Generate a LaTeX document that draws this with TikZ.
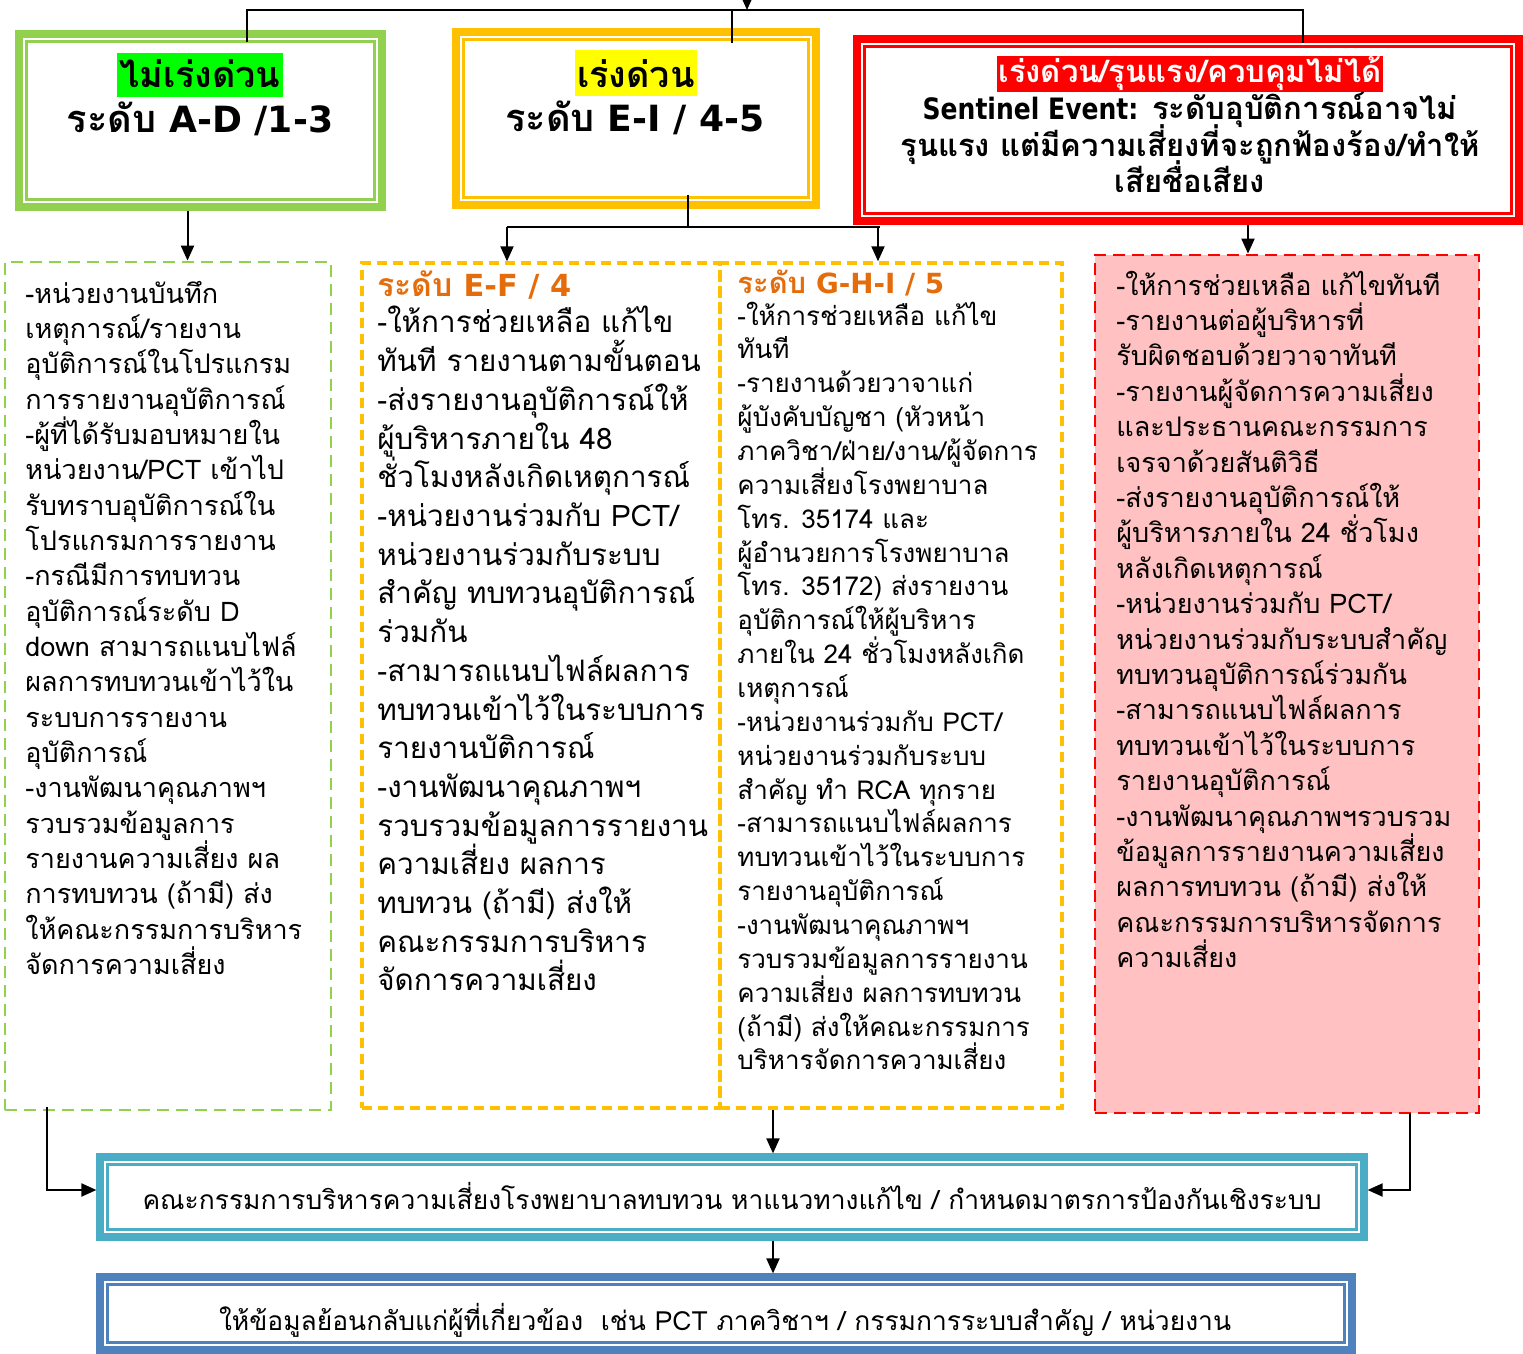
\documentclass[tikz,border=0pt]{standalone}
\usepackage{fontspec}
\setmainfont[Script=Thai]{Loma}
\newfontfamily\dvs{DejaVu Sans}[Scale=0.95]
\newfontfamily\dvsn{DejaVu Sans}[Scale=0.95, FakeStretch=0.85]
\usetikzlibrary{arrows.meta,fit}
\definecolor{cgreen}{HTML}{92D050}
\definecolor{hgreen}{HTML}{00FF00}
\definecolor{cyel}{HTML}{FFC000}
\definecolor{hyel}{HTML}{FFFF00}
\definecolor{cred}{HTML}{FF0000}
\definecolor{corange}{HTML}{E46C0A}
\definecolor{cpink}{HTML}{FFC1C1}
\definecolor{ccyan}{HTML}{4BACC6}
\definecolor{cblue}{HTML}{4F81BD}
\tikzset{
  band/.style={draw=#1, line width=3.6pt, inner sep=0pt},
  thinline/.style={draw=#1, line width=1.2pt},
  dbox/.style={draw=#1, line width=1.4pt, dash pattern=on 6pt off 3.5pt, inner sep=0pt},
  conn/.style={line width=1pt, draw=black},
  arr/.style={conn, -{Triangle[width=6.5pt,length=7.5pt]}},
  gtxt/.style={anchor=base west, inner sep=0pt, font=\fontsize{13.5pt}{16pt}\selectfont},
  etxt/.style={anchor=base west, inner sep=0pt, font=\fontsize{14.8pt}{17pt}\selectfont},
  htxt/.style={anchor=base west, inner sep=0pt, font=\fontsize{13pt}{15pt}\selectfont},
  hdr/.style={anchor=base west, inner sep=0pt, text=corange, font=\bfseries\fontsize{14.6pt}{17pt}\selectfont},
  ttl/.style={anchor=base, inner sep=0pt, font=\bfseries\fontsize{19pt}{21pt}\selectfont},
  rttl/.style={anchor=base, inner sep=0pt, font=\bfseries\fontsize{15.5pt}{17pt}\selectfont},
  btxt/.style={anchor=base, inner sep=0pt, font=\fontsize{13.2pt}{16pt}\selectfont},
}
\begin{document}
\begin{tikzpicture}[x=0.5pt,y=-0.5pt]
\useasboundingbox (0,0) rectangle (1523,1354);
% ---------- top boxes
\node[band=cgreen, fit={(19,34)(382,207)}] (gbox) {};
\node[band=cyel, fit={(456,32)(816,205)}] (ybox) {};
\node[band=cred, fit={(857,39)(1519,221)}] (rbox) {};
\foreach \b/\c in {gbox/cgreen, ybox/cyel, rbox/cred}
  \draw[thinline=\c] ([shift={(5.5pt,-5.5pt)}]\b.north west) rectangle ([shift={(-5.5pt,5.5pt)}]\b.south east);
% titles
\node[ttl, fill=hgreen, inner xsep=1pt, text height=17.5pt, text depth=4.5pt, font=\bfseries\fontsize{18pt}{20pt}\selectfont] (t1a) at (200,88) {ไม่เร่งด่วน};
\node[ttl] (t1b) at (200,133) {ระดับ {\dvs A-D /1-3}};
\node[ttl, fill=hyel, inner xsep=1pt, text height=19pt, text depth=4pt, font=\bfseries\fontsize{18pt}{20pt}\selectfont] (t2a) at (636,88) {เร่งด่วน};
\node[ttl] (t2b) at (635,132) {ระดับ {\dvs E-I / 4-5}};
\node[rttl, fill=cred, text=white, inner xsep=1pt, text height=13.5pt, text depth=4.5pt] (t3a) at (1190,83) {เร่งด่วน/รุนแรง/ควบคุมไม่ได้};
\node[rttl] (t3b) at (1190,120) {{\dvsn Sentinel Event:} ระดับอุบัติการณ์อาจไม่};
\node[rttl] (t3c) at (1190,157) {รุนแรง แต่มีความเสี่ยงที่จะถูกฟ้องร้อง/ทำให้};
\node[rttl] (t3d) at (1190,192) {เสียชื่อเสียง};
% ---------- dashed boxes
\node[dbox=cgreen, fit={(5,262)(331,1110)}] (gd) {};
\node[dbox=cred, fill=cpink, fit={(1095,255)(1479,1113)}] (rd) {};
\node[dbox=cyel, line width=1.7pt, dash pattern=on 5pt off 3pt, fit={(362,263)(720,1108)}] (ef) {};
\node[dbox=cyel, line width=1.7pt, dash pattern=on 5pt off 3pt, fit={(720,263)(1062,1108)}] (ghi) {};
% green text
\foreach \t [count=\i from 0] in {-หน่วยงานบันทึก,เหตุการณ์/รายงาน,อุบัติการณ์ในโปรแกรม,การรายงานอุบัติการณ์,-ผู้ที่ได้รับมอบหมายใน,หน่วยงาน/PCT เข้าไป,รับทราบอุบัติการณ์ใน,โปรแกรมการรายงาน,-กรณีมีการทบทวน,อุบัติการณ์ระดับ D,down สามารถแนบไฟล์,ผลการทบทวนเข้าไว้ใน,ระบบการรายงาน,อุบัติการณ์,-งานพัฒนาคุณภาพฯ,รวบรวมข้อมูลการ,รายงานความเสี่ยง ผล,การทบทวน (ถ้ามี) ส่ง,ให้คณะกรรมการบริหาร,จัดการความเสี่ยง}
  \node[gtxt] (g\i) at (25,{303+35.35*\i}) {\t};
% E-F text
\node[hdr, font=\bfseries\fontsize{16pt}{18pt}\selectfont] (efh) at (377,297) {ระดับ {\dvs E-F / 4}};
\foreach \t [count=\i from 0] in {-ให้การช่วยเหลือ แก้ไข,ทันที รายงานตามขั้นตอน,-ส่งรายงานอุบัติการณ์ให้,ผู้บริหารภายใน 48,ชั่วโมงหลังเกิดเหตุการณ์,-หน่วยงานร่วมกับ PCT/,หน่วยงานร่วมกับระบบ,สำคัญ ทบทวนอุบัติการณ์,ร่วมกัน,-สามารถแนบไฟล์ผลการ,ทบทวนเข้าไว้ในระบบการ,รายงานบัติการณ์,-งานพัฒนาคุณภาพฯ,รวบรวมข้อมูลการรายงาน,ความเสี่ยง ผลการ,ทบทวน (ถ้ามี) ส่งให้,คณะกรรมการบริหาร,จัดการความเสี่ยง}
  \node[etxt] (e\i) at (377,{333+38.7*\i}) {\t};
% G-H-I text
\node[hdr] (ghih) at (737,293) {ระดับ {\dvs G-H-I / 5}};
\foreach \t [count=\i from 0] in {-ให้การช่วยเหลือ แก้ไข,ทันที,-รายงานด้วยวาจาแก่,ผู้บังคับบัญชา (หัวหน้า,ภาควิชา/ฝ่าย/งาน/ผู้จัดการ,ความเสี่ยงโรงพยาบาล,โทร. 35174 และ,ผู้อำนวยการโรงพยาบาล,โทร. 35172) ส่งรายงาน,อุบัติการณ์ให้ผู้บริหาร,ภายใน 24 ชั่วโมงหลังเกิด,เหตุการณ์,-หน่วยงานร่วมกับ PCT/,หน่วยงานร่วมกับระบบ,สำคัญ ทำ RCA ทุกราย,-สามารถแนบไฟล์ผลการ,ทบทวนเข้าไว้ในระบบการ,รายงานอุบัติการณ์,-งานพัฒนาคุณภาพฯ,รวบรวมข้อมูลการรายงาน,ความเสี่ยง ผลการทบทวน,(ถ้ามี) ส่งให้คณะกรรมการ,บริหารจัดการความเสี่ยง}
  \node[htxt] (h\i) at (737,{325+33.86*\i}) {\t};
% red text
\foreach \t [count=\i from 0] in {-ให้การช่วยเหลือ แก้ไขทันที,-รายงานต่อผู้บริหารที่,รับผิดชอบด้วยวาจาทันที,-รายงานผู้จัดการความเสี่ยง,และประธานคณะกรรมการ,เจรจาด้วยสันติวิธี,-ส่งรายงานอุบัติการณ์ให้,ผู้บริหารภายใน 24 ชั่วโมง,หลังเกิดเหตุการณ์,-หน่วยงานร่วมกับ PCT/,หน่วยงานร่วมกับระบบสำคัญ,ทบทวนอุบัติการณ์ร่วมกัน,-สามารถแนบไฟล์ผลการ,ทบทวนเข้าไว้ในระบบการ,รายงานอุบัติการณ์,-งานพัฒนาคุณภาพฯรวบรวม,ข้อมูลการรายงานความเสี่ยง,ผลการทบทวน (ถ้ามี) ส่งให้,คณะกรรมการบริหารจัดการ,ความเสี่ยง}
  \node[gtxt] (r\i) at (1116,{295+35.4*\i}) {\t};
% ---------- bottom boxes
\node[band=ccyan, fit={(100,1157)(1364,1237)}] (cbox) {};
\node[band=cblue, fit={(100,1277)(1352,1350)}] (bbox) {};
\foreach \b/\c in {cbox/ccyan, bbox/cblue}
  \draw[thinline=\c] ([shift={(5.5pt,-5.5pt)}]\b.north west) rectangle ([shift={(-5.5pt,5.5pt)}]\b.south east);
\node[btxt] (ctext) at (732,1209) {คณะกรรมการบริหารความเสี่ยงโรงพยาบาลทบทวน หาแนวทางแก้ไข / กำหนดมาตรการป้องกันเชิงระบบ};
\node[btxt] (btext) at (725,1330) {ให้ข้อมูลย้อนกลับแก่ผู้ที่เกี่ยวข้อง~~เช่น PCT ภาควิชาฯ / กรรมการระบบสำคัญ / หน่วยงาน};
% ---------- connectors
\coordinate (topin) at (747,0);
\coordinate (split) at (747,10);
\coordinate (jL) at (247,42);
\coordinate (jM) at (732,43);
\coordinate (jR) at (1303,43);
\draw[arr] (topin) -- (split);
\draw[conn] (jL) |- (split) -| (jR);
\draw[conn] (jM) -- (jM |- split);
\draw[arr] ([xshift=-6.5pt]gbox.south) -- ([xshift=-6.5pt]gbox.south |- gd.north);
\coordinate (ys) at (688,195);
\coordinate (yj) at (688,227);
\coordinate (yL) at (507,227);
\coordinate (yR) at (880,227);
\coordinate (yR2) at (878,227);
\draw[conn] (ys) -- (yj);
\draw[conn] (yL) -- (yR);
\draw[arr] (yL) -- (yL |- ef.north);
\draw[arr] (yR2) -- (yR2 |- ghi.north);
\coordinate (rs) at (1248,225);
\draw[arr] (rs) -- (rs |- rd.north);
% bottom connectors
\coordinate (gl) at (47,1107);
\coordinate (gk) at (47,1190);
\draw[arr] (gl) -- (gk) -- (gk -| cbox.west);
\coordinate (mc) at (773,1110);
\draw[arr] (mc) -- (mc |- cbox.north);
\coordinate (rl) at (1410,1113);
\coordinate (rk) at (1410,1190);
\draw[arr] (rl) -- (rk) -- (rk -| cbox.east);
\draw[arr] (cbox.south -| mc) -- (mc |- bbox.north);
\end{tikzpicture}
\end{document}
